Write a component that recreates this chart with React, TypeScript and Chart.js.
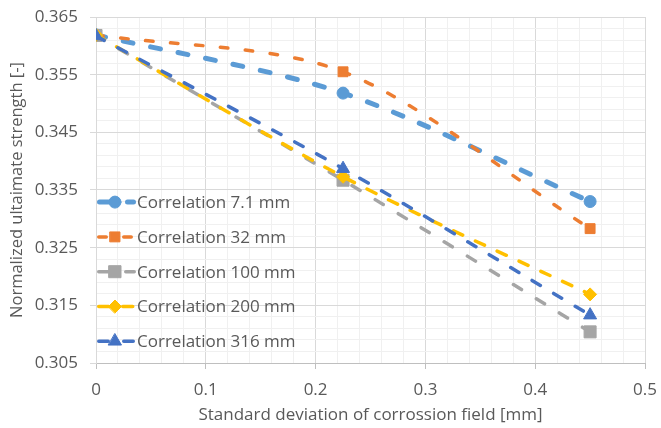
import React, { useEffect, useRef } from 'react';
import { Chart, registerables } from 'chart.js';
import { drawPoint } from 'chart.js/helpers';

Chart.register(...registerables);

// ---- data ----
const xValues = [0, 0.225, 0.45];
const seriesNames = [
  'Correlation 7.1 mm',
  'Correlation 32 mm',
  'Correlation 100 mm',
  'Correlation 200 mm',
  'Correlation 316 mm',
];
const corr7_1 = [0.3619, 0.3518, 0.333];
const corr32 = [0.3619, 0.3555, 0.3283];
const corr100 = [0.3618, 0.3367, 0.3104];
const corr200 = [0.3619, 0.3373, 0.3169];
const corr316 = [0.3617, 0.3387, 0.3133];
const seriesValues = [corr7_1, corr32, corr100, corr200, corr316];

const yMin = 0.305;
const yMax = 0.365;
const yMajorStep = 0.01;
const xMin = 0;
const xMax = 0.5;
const xMajorStep = 0.1;
const minorPerMajor = 5;

const xTitle = 'Standard deviation of corrossion field [mm]';
const yTitle = 'Normalized ultaimate strength [-]';

// ---- styles ----
const colors = ['#5B9BD5', '#ED7D31', '#A5A5A5', '#FFC000', '#4472C4'];
const pointStyles = ['circle', 'rect', 'rect', 'rectRot', 'triangle'];
const pointRadii = [6, 7, 8.5, 6.5, 7.5];
const lineWidths = [5, 3.5, 3.5, 3.5, 3.5];
const dashes = [
  [10, 18],
  [7.5, 17.5],
  [9.5, 17.5],
  [10, 14],
  [9.5, 15.5],
];
const textColor = '#595959';
const fontFamily = '"Open Sans", "Liberation Sans", sans-serif';

function makeTicks(min: number, max: number, step: number) {
  const out: { value: number }[] = [];
  const n = Math.round((max - min) / step);
  for (let i = 0; i <= n; i++) out.push({ value: +(min + i * step).toFixed(6) });
  return out;
}

const insideLegend = {
  id: 'insideLegend',
  afterDraw(chart: any) {
    const ctx = chart.ctx as CanvasRenderingContext2D;
    const area = chart.chartArea;
    const rowGap = 34.8;
    const n = chart.data.datasets.length;
    chart.data.datasets.forEach((ds: any, i: number) => {
      const y = area.bottom - 21.7 - (n - 1 - i) * rowGap;
      const x0 = area.left + 1;
      const x1 = area.left + 40;
      const xm = area.left + 19;
      ctx.save();
      ctx.strokeStyle = ds.borderColor;
      ctx.lineWidth = ds.borderWidth;
      ctx.lineCap = 'round';
      ctx.setLineDash(ds.borderDash || []);
      ctx.beginPath();
      ctx.moveTo(x0 + ds.borderWidth / 2, y);
      ctx.lineTo(x1 - ds.borderWidth / 2, y);
      ctx.stroke();
      ctx.setLineDash([]);
      ctx.fillStyle = ds.pointBackgroundColor;
      ctx.strokeStyle = ds.pointBorderColor;
      ctx.lineWidth = 1;
      drawPoint(ctx, { pointStyle: ds.pointStyle, radius: ds.pointRadius, rotation: 0, borderWidth: 1 } as any, xm, y);
      ctx.fillStyle = textColor;
      ctx.font = `17px ${fontFamily}`;
      ctx.textBaseline = 'middle';
      ctx.textAlign = 'left';
      ctx.fillText(ds.label, area.left + 41, y + 1);
      ctx.restore();
    });
  },
};

export default function App() {
  const ref = useRef<HTMLCanvasElement | null>(null);

  useEffect(() => {
    if (!ref.current) return;
    const datasets = seriesNames.map((name, i) => ({
      label: name,
      data: xValues.map((x, j) => ({ x, y: seriesValues[i][j] })),
      borderColor: colors[i],
      backgroundColor: colors[i],
      borderWidth: lineWidths[i],
      borderDash: dashes[i],
      borderCapStyle: 'round' as const,
      pointStyle: pointStyles[i],
      pointRadius: pointRadii[i],
      pointBackgroundColor: colors[i],
      pointBorderColor: colors[i],
      pointBorderWidth: 1,
      tension: 0.3,
      fill: false,
      order: seriesNames.length - i,
    }));

    const chart = new Chart(ref.current, {
      type: 'line',
      data: { datasets },
      plugins: [insideLegend],
      options: {
        animation: false,
        responsive: true,
        maintainAspectRatio: false,
        layout: { padding: { top: 17, right: 16, left: 0, bottom: 0 } },
        plugins: {
          legend: { display: false },
          tooltip: { enabled: false },
        },
        scales: {
          x: {
            type: 'linear',
            min: xMin,
            max: xMax,
            afterBuildTicks: (scale: any) => {
              scale.ticks = makeTicks(xMin, xMax, xMajorStep / minorPerMajor);
            },
            afterFit: (scale: any) => {
              scale.height = 65;
              scale.paddingLeft = 0;
              scale.paddingRight = 0;
            },
            ticks: {
              autoSkip: false,
              maxRotation: 0,
              color: textColor,
              font: { family: fontFamily, size: 17 },
              padding: 11,
              callback: (v: any, idx: number) => (idx % minorPerMajor === 0 ? String(+(+v).toFixed(1)) : ''),
            },
            grid: {
              color: (c: any) => (c.index % minorPerMajor === 0 ? '#d9d9d9' : '#f0f0f0'),
              tickColor: (c: any) => (c.index % minorPerMajor === 0 ? '#bfbfbf' : 'rgba(0,0,0,0)'),
              tickLength: 6,
              lineWidth: 1,
            },
            border: { color: '#bfbfbf', width: 1 },
            title: {
              display: true,
              text: xTitle,
              color: textColor,
              font: { family: fontFamily, size: 17 },
              padding: { top: 0, bottom: 3 },
            },
          },
          y: {
            type: 'linear',
            min: yMin,
            max: yMax,
            afterBuildTicks: (scale: any) => {
              scale.ticks = makeTicks(yMin, yMax, yMajorStep / minorPerMajor);
            },
            afterFit: (scale: any) => {
              scale.width = 96;
              scale.paddingTop = 0;
              scale.paddingBottom = 0;
            },
            ticks: {
              autoSkip: false,
              color: textColor,
              font: { family: fontFamily, size: 17 },
              padding: 12,
              callback: (v: any, idx: number) => (idx % minorPerMajor === 0 ? (+v).toFixed(3) : ''),
            },
            grid: {
              color: (c: any) => (c.index % minorPerMajor === 0 ? '#d9d9d9' : '#f0f0f0'),
              tickColor: (c: any) => (c.index % minorPerMajor === 0 ? '#d9d9d9' : 'rgba(0,0,0,0)'),
              tickLength: 6,
              lineWidth: 1,
            },
            border: { color: '#d9d9d9', width: 1 },
            title: {
              display: true,
              text: yTitle,
              color: textColor,
              font: { family: fontFamily, size: 16.5 },
              padding: { top: 7, bottom: 0 },
            },
          },
        },
      },
    });
    return () => chart.destroy();
  }, []);

  return (
    <div style={{ position: 'fixed', left: 0, top: 0, width: 661, height: 428, background: '#fff' }}>
      <canvas ref={ref} />
    </div>
  );
}
